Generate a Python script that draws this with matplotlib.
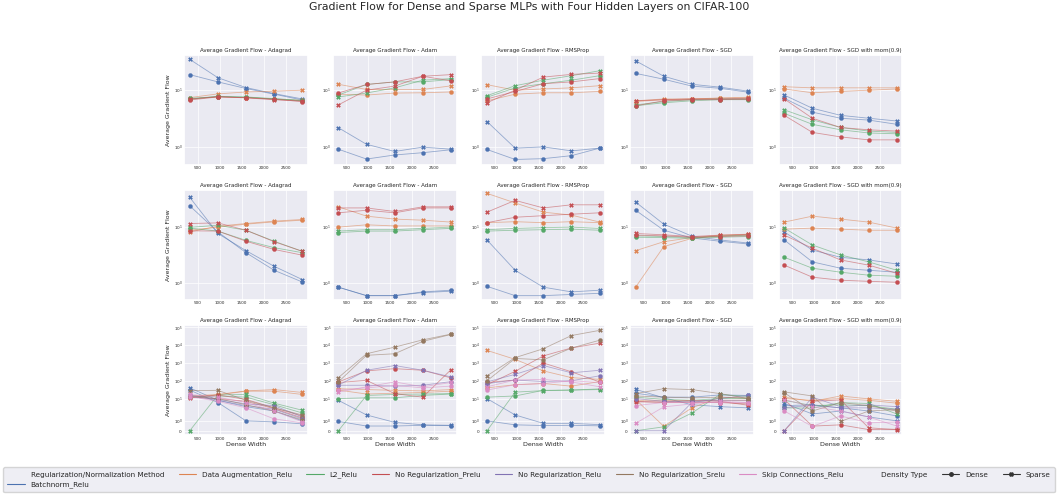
import numpy as np
import matplotlib.pyplot as plt
import seaborn as sns
from matplotlib.lines import Line2D

sns.set_theme(style="darkgrid")

widths = [320, 960, 1600, 2240, 2880]
optimizers = ["Adagrad", "Adam", "RMSProp", "SGD", "SGD with mom(0.9)"]
methods = ["Batchnorm_Relu", "Data Augmentation_Relu", "L2_Relu",
           "No Regularization_Prelu", "No Regularization_Relu",
           "No Regularization_Srelu", "Skip Connections_Relu"]
densities = ["Dense", "Sparse"]

# each entry: method -> (dense values, sparse values)
r1_adagrad = {
    "Batchnorm_Relu": ([18.8, 14, 10.7, 8.5, 6.7], [35, 16.6, 11.1, 8.7, 7.0]),
    "Data Augmentation_Relu": ([7.0, 7.6, 7.4, 7.0, 6.6], [7.4, 8.6, 9.3, 9.6, 10]),
    "L2_Relu": ([7.2, 7.7, 7.5, 7.0, 6.5], [6.9, 7.8, 7.6, 7.1, 6.6]),
    "No Regularization_Prelu": ([6.7, 7.6, 7.4, 6.9, 6.3], [7.0, 7.7, 7.3, 6.8, 6.4]),
}
r1_adam = {
    "Batchnorm_Relu": ([0.91, 0.61, 0.72, 0.79, 0.89], [2.18, 1.11, 0.83, 0.99, 0.91]),
    "Data Augmentation_Relu": ([8.5, 8.2, 8.9, 9.0, 9.3], [12.7, 10.3, 10.3, 10.3, 11.9]),
    "L2_Relu": ([8.2, 12.6, 14, 14, 15.4], [7.6, 8.9, 11, 15, 16]),
    "No Regularization_Prelu": ([8.9, 12.6, 14, 17.6, 14.6], [5.5, 10, 11.8, 17.6, 18.8]),
}
r1_rmsprop = {
    "Batchnorm_Relu": ([0.9, 0.6, 0.62, 0.7, 0.95], [2.8, 0.95, 1.0, 0.85, 0.95]),
    "Data Augmentation_Relu": ([6.5, 8.5, 9.0, 9.0, 9.5], [12.5, 10, 10.5, 11, 12]),
    "L2_Relu": ([7.5, 11, 13, 15, 18], [8, 12, 15, 18, 22]),
    "No Regularization_Prelu": ([7, 9.5, 13, 14, 16], [6.0, 10, 17, 19, 20]),
}
r1_sgd = {
    "Batchnorm_Relu": ([19.8, 15.6, 11.8, 10.8, 9.2], [33, 17.6, 12.7, 11.3, 9.6]),
    "Data Augmentation_Relu": ([6.3, 6.8, 7, 7.2, 7.3], [6.5, 7, 7, 7.3, 7.5]),
    "L2_Relu": ([5.3, 6, 6.5, 6.8, 6.8], [5.5, 6.3, 6.8, 7, 7]),
    "No Regularization_Prelu": ([5.3, 6.5, 6.8, 6.8, 6.9], [6.5, 6.8, 7, 7, 7.2]),
}
r1_sgdm = {
    "Batchnorm_Relu": ([7.2, 4.1, 3.2, 2.97, 2.5], [8.2, 4.8, 3.6, 3.2, 2.86]),
    "Data Augmentation_Relu": ([10.5, 9, 9.5, 10, 10.5], [11.5, 11, 11, 11, 11]),
    "L2_Relu": ([3.9, 2.5, 2.0, 1.76, 1.7], [4.5, 3.0, 2.2, 1.9, 1.8]),
    "No Regularization_Prelu": ([3.6, 1.8, 1.5, 1.33, 1.33], [7, 3.2, 2.2, 2.0, 1.9]),
}

r2_adagrad = {
    "Batchnorm_Relu": ([24, 8.2, 3.5, 1.7, 1.05], [34, 7.7, 3.8, 2.0, 1.16]),
    "Data Augmentation_Relu": ([8.8, 10.0, 11.3, 12.4, 13.3], [8.2, 10.4, 11.6, 12.8, 13.7]),
    "L2_Relu": ([9.6, 8.5, 5.8, 4.3, 3.5], [9.9, 10.8, 8.8, 5.6, 3.7]),
    "No Regularization_Prelu": ([8.6, 8.5, 5.6, 4.0, 3.16], [11.6, 11.9, 8.8, 5.5, 3.7]),
}
r2_adam = {
    "Batchnorm_Relu": ([0.85, 0.6, 0.6, 0.7, 0.75], [0.85, 0.6, 0.6, 0.68, 0.72]),
    "Data Augmentation_Relu": ([10, 11, 10.5, 10.5, 10.5], [23, 15.7, 13.9, 13.3, 12.3]),
    "L2_Relu": ([8, 8.5, 8.5, 9, 9.5], [8.5, 9, 9, 9.5, 10]),
    "No Regularization_Prelu": ([18, 20, 18, 22, 22], [22, 22, 19, 23, 23]),
}
r2_rmsprop = {
    "Batchnorm_Relu": ([0.88, 0.6, 0.6, 0.63, 0.66], [5.9, 1.7, 0.85, 0.7, 0.75]),
    "Data Augmentation_Relu": ([12, 12.5, 12, 12.5, 12], [40, 27, 18.5, 16.4, 12.3]),
    "L2_Relu": ([8.5, 8.8, 9, 9.2, 8.8], [9, 9.5, 9.8, 10, 9.5]),
    "No Regularization_Prelu": ([12, 15, 16, 17, 18], [18.5, 30, 22, 25, 25]),
}
r2_sgd = {
    "Batchnorm_Relu": ([20, 8.8, 6.4, 5.6, 5.0], [28, 11.3, 6.9, 5.9, 5.2]),
    "Data Augmentation_Relu": ([0.85, 4.5, 6.3, 7.0, 7.3], [3.8, 5.5, 6.5, 7.2, 7.5]),
    "L2_Relu": ([6.6, 6.5, 6.3, 6.6, 6.8], [7.0, 6.8, 6.5, 6.9, 7.2]),
    "No Regularization_Prelu": ([7.2, 7.0, 6.6, 6.8, 7.0], [7.7, 7.3, 6.8, 7.2, 7.4]),
}
r2_sgdm = {
    "Batchnorm_Relu": ([5.9, 2.4, 1.85, 1.7, 1.57], [8.2, 3.9, 2.9, 2.6, 2.2]),
    "Data Augmentation_Relu": ([9.2, 9.6, 9.2, 8.8, 8.8], [12.3, 15.7, 13.9, 12.3, 9.6]),
    "L2_Relu": ([2.9, 1.85, 1.57, 1.39, 1.33], [9.6, 4.8, 3.2, 2.4, 1.7]),
    "No Regularization_Prelu": ([2.1, 1.28, 1.13, 1.08, 1.04], [7.2, 4.2, 2.6, 2.1, 1.5]),
}

r3_adagrad = {
    "Batchnorm_Relu": ([30, 6, 1.0, 0.9, 0.7], [40, 8, 3.5, 2.0, 1.0]),
    "Data Augmentation_Relu": ([12, 16, 26, 26, 17], [14, 17, 27, 32, 22]),
    "L2_Relu": ([12, 14, 12, 4.5, 1.8], [0, 16, 17, 5.5, 2.2]),
    "No Regularization_Prelu": ([12, 10, 7, 2.7, 1.3], [11, 16, 9, 3, 1.5]),
    "No Regularization_Relu": ([14, 8, 4, 2.5, 1.2], [16, 9, 5, 4, 1.4]),
    "No Regularization_Srelu": ([13, 10, 4.5, 2, 1.1], [28, 29, 8, 3, 1.6]),
    "Skip Connections_Relu": ([13, 7, 3, 1.2, 0.8], [17, 12, 6, 2, 0.9]),
}
r3_adam = {
    "Batchnorm_Relu": ([0.95, 0.48, 0.48, 0.55, 0.52], [8, 1.6, 0.85, 0.6, 0.55]),
    "Data Augmentation_Relu": ([30, 18, 20, 22, 26], [36, 32, 29, 27, 32]),
    "L2_Relu": ([10, 11, 11, 15, 18], [0, 15, 17, 18, 19]),
    "No Regularization_Prelu": ([86, 360, 480, 390, 145], [80, 105, 19, 12, 420]),
    "No Regularization_Relu": ([56, 56, 50, 56, 90], [56, 390, 720, 390, 165]),
    "No Regularization_Srelu": ([86, 2700, 3300, 16500, 40000], [150, 3300, 7800, 20000, 42000]),
    "Skip Connections_Relu": ([30, 40, 55, 40, 50], [23, 46, 86, 46, 80]),
}
r3_rmsprop = {
    "Batchnorm_Relu": ([1.0, 0.6, 0.53, 0.55, 0.5], [10, 1.6, 0.75, 0.75, 0.62]),
    "Data Augmentation_Relu": ([40, 60, 70, 50, 90], [5100, 1600, 360, 150, 120]),
    "L2_Relu": ([12, 14, 29, 30, 35], [0, 23, 28, 30, 32]),
    "No Regularization_Prelu": ([80, 110, 1000, 320, 86], [60, 340, 2500, 7000, 13000]),
    "No Regularization_Relu": ([70, 110, 90, 100, 190], [86, 230, 720, 280, 390]),
    "No Regularization_Srelu": ([100, 1800, 1500, 6900, 19000], [190, 2000, 6300, 35000, 68000]),
    "Skip Connections_Relu": ([30, 60, 70, 100, 80], [46, 110, 120, 86, 46]),
}
r3_sgd = {
    "Batchnorm_Relu": ([20, 12, 12, 16, 15], [33, 11, 4.5, 3.5, 3.0]),
    "Data Augmentation_Relu": ([8, 8, 7, 8, 8], [9, 0.45, 3.0, 12, 10]),
    "L2_Relu": ([12, 9, 8, 10, 10], [0, 0.4, 1.8, 17, 13]),
    "No Regularization_Prelu": ([7, 6, 6, 6, 5], [6.5, 6.5, 8, 7, 4.2]),
    "No Regularization_Relu": ([10, 7, 7, 8, 8], [0, 0, 6, 10, 15]),
    "No Regularization_Srelu": ([14, 12, 11, 12, 11], [19, 36, 32, 19, 10]),
    "Skip Connections_Relu": ([4, 6, 6, 6, 6], [0.75, 3.4, 5, 7, 6]),
}
r3_sgdm = {
    "Batchnorm_Relu": ([4, 4.5, 3, 2, 1.5], [5.5, 1.7, 2.0, 1.4, 1.0]),
    "Data Augmentation_Relu": ([10, 8, 10, 8, 5.5], [12, 7, 14, 9.6, 7]),
    "L2_Relu": ([8, 4, 4.5, 4, 2.5], [3, 2.9, 5.9, 5.3, 1.7]),
    "No Regularization_Prelu": ([9, 0.47, 0.6, 0.12, 0.15], [0, 7, 8.4, 0.3, 0.12]),
    "No Regularization_Relu": ([3.1, 4.1, 3.0, 3.0, 2.5], [0, 12, 3.5, 4.4, 3.5]),
    "No Regularization_Srelu": ([21, 2.0, 6, 4, 2.0], [23.7, 14, 0.94, 2.0, 2.4]),
    "Skip Connections_Relu": ([2.0, 0.44, 1.5, 0.8, 0.9], [8.8, 3.5, 2.0, 1.4, 0.47]),
}

rows = [
    [r1_adagrad, r1_adam, r1_rmsprop, r1_sgd, r1_sgdm],
    [r2_adagrad, r2_adam, r2_rmsprop, r2_sgd, r2_sgdm],
    [r3_adagrad, r3_adam, r3_rmsprop, r3_sgd, r3_sgdm],
]

palette = dict(zip(methods, sns.color_palette("deep", len(methods))))
markers = {"Dense": "o", "Sparse": "X"}

fig, axes = plt.subplots(3, 5, figsize=(10.58, 4.94), dpi=100)
fig.subplots_adjust(left=0.174, right=0.853, top=0.889, bottom=0.119,
                    wspace=0.2, hspace=0.227)

for r, row in enumerate(rows):
    for c, data in enumerate(row):
        ax = axes[r, c]
        for m, (dense, sparse) in data.items():
            for d, vals in zip(densities, (dense, sparse)):
                col = palette[m]
                ax.plot(widths, vals, color=(*col, 0.55), lw=0.6,
                        marker=markers[d], ms=3.0, mfc=col, mec=col,
                        mew=0.2)
        if r < 2:
            ax.set_yscale("log")
            ax.set_ylim(0.48, 42) if r == 0 else ax.set_ylim(0.5, 46)
            ax.set_yticks([1, 10])
        else:
            ax.set_yscale("symlog", linthresh=2, linscale=1)
            ax.set_ylim(-0.45, 1.35e5)
            ax.set_yticks([0, 1, 10, 100, 1e3, 1e4, 1e5])
        ax.minorticks_off()
        ax.set_xticks([500, 1000, 1500, 2000, 2500])
        ax.set_xlim(192, 3008)
        ax.tick_params(labelsize=3, pad=1, length=0)
        ax.grid(lw=0.5)
        ax.set_title(f"Average Gradient Flow - {optimizers[c]}", fontsize=4.0, pad=2)
        if c == 0:
            ax.set_ylabel("Average Gradient Flow", fontsize=4.5, labelpad=2)
        if r == 2:
            ax.set_xlabel("Dense Width", fontsize=4.5, labelpad=1)

fig.suptitle("Gradient Flow for Dense and Sparse MLPs with Four Hidden Layers on CIFAR-100",
             fontsize=7.8, y=0.995)

blank = Line2D([], [], alpha=0)
handles = [blank] + [Line2D([], [], color=palette[m], lw=0.8) for m in methods]
handles += [blank] + [Line2D([], [], color="#333333", lw=0.8, marker=markers[d], ms=2.5)
                      for d in densities]
labels = ["Regularization/Normalization Method"] + methods + ["Density Type"] + densities
fig.legend(handles, labels, loc="lower center", bbox_to_anchor=(0.5, -0.004), ncol=10,
           fontsize=5.2, frameon=True, columnspacing=2.0, handlelength=2.4,
           borderpad=0.6)

fig.savefig("out.png", dpi=100)
